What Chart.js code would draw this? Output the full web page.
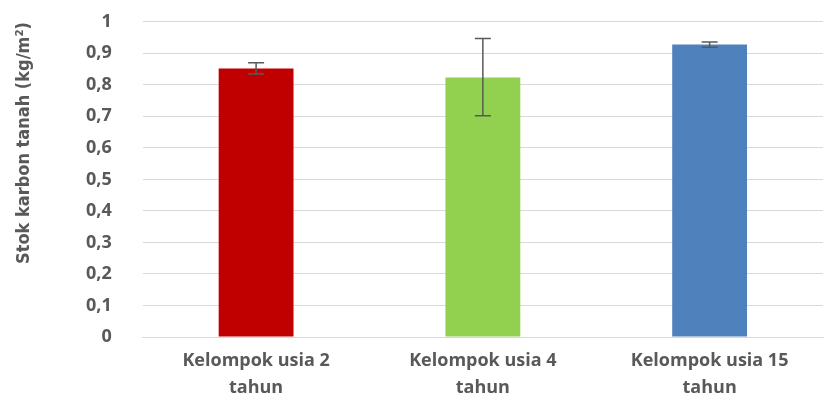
<!DOCTYPE html>
<html>
<head>
<meta charset="utf-8">
<script src="https://cdn.jsdelivr.net/npm/chart.js@4"></script>
<style>
  html, body { margin: 0; padding: 0; background: #fff; }
  #wrap { width: 827px; height: 401px; }
</style>
</head>
<body>
<div id="wrap"><canvas id="stok-chart"></canvas></div>
<script>
var groups = [['Kelompok usia 2', 'tahun'], ['Kelompok usia 4', 'tahun'], ['Kelompok usia 15', 'tahun']];
var stok = [0.852, 0.823, 0.928];
var errLow = [0.834, 0.702, 0.919];
var errHigh = [0.870, 0.947, 0.936];
var barColors = ['#C00000', '#92D050', '#4F81BD'];
var yTicks = [0, 0.1, 0.2, 0.3, 0.4, 0.5, 0.6, 0.7, 0.8, 0.9, 1];
var yTitle = 'Stok karbon tanah (kg/m²)';

// Chart.js has no error bars, so draw them from the scales after the bars
var errorBars = {
  id: 'errorBars',
  afterDatasetsDraw: function (chart) {
    var ctx = chart.ctx;
    var x = chart.scales.x, y = chart.scales.y;
    ctx.save();
    ctx.strokeStyle = '#595959';
    ctx.lineWidth = 1.5;
    for (var i = 0; i < stok.length; i++) {
      var cx = x.getPixelForValue(i);
      var top = y.getPixelForValue(errHigh[i]);
      var bot = y.getPixelForValue(errLow[i]);
      ctx.beginPath();
      ctx.moveTo(cx, top); ctx.lineTo(cx, bot);
      ctx.moveTo(cx - 8, top); ctx.lineTo(cx + 8, top);
      ctx.moveTo(cx - 8, bot); ctx.lineTo(cx + 8, bot);
      ctx.stroke();
    }
    ctx.restore();
  }
};

// axis title sits a bit above the middle of the plot, like the original
var sideTitle = {
  id: 'sideTitle',
  afterDraw: function (chart) {
    var ctx = chart.ctx;
    ctx.save();
    ctx.translate(24, 143);
    ctx.rotate(-Math.PI / 2);
    ctx.fillStyle = '#595959';
    ctx.font = 'bold 18px "DejaVu Sans Condensed"';
    ctx.textAlign = 'center';
    ctx.textBaseline = 'middle';
    ctx.fillText(yTitle, 0, 0);
    ctx.restore();
  }
};

var stokChart = new Chart(document.getElementById('stok-chart'), {
  type: 'bar',
  data: {
    labels: groups,
    datasets: [{
      label: 'Stok karbon tanah',
      data: stok,
      backgroundColor: barColors,
      borderWidth: 0,
      categoryPercentage: 1,
      barPercentage: 0.33
    }]
  },
  plugins: [errorBars, sideTitle],
  options: {
    responsive: true,
    maintainAspectRatio: false,
    animation: false,
    layout: { padding: { top: 0, right: 4, left: 75, bottom: -10 } },
    plugins: {
      legend: { display: false },
      tooltip: { enabled: false }
    },
    scales: {
      x: {
        grid: { display: false, drawTicks: false },
        border: { color: '#d9d9d9' },
        ticks: {
          color: '#595959',
          padding: 10,
          maxRotation: 0,
          font: { family: 'Open Sans', size: 18, weight: 'bold', lineHeight: 1.5 }
        }
      },
      y: {
        min: 0,
        max: 1,
        afterBuildTicks: function (axis) {
          axis.ticks = yTicks.map(function (v) { return { value: v }; });
        },
        grid: { color: '#d9d9d9', drawTicks: true, tickLength: 20, tickColor: 'rgba(0,0,0,0)' },
        border: { display: false },
        ticks: {
          color: '#595959',
          padding: 11,
          font: { family: 'Open Sans', size: 18, weight: 'bold' },
          callback: function (v) { return String(Math.round(v * 10) / 10).replace('.', ','); }
        }
      }
    }
  }
});
</script>
</body>
</html>
